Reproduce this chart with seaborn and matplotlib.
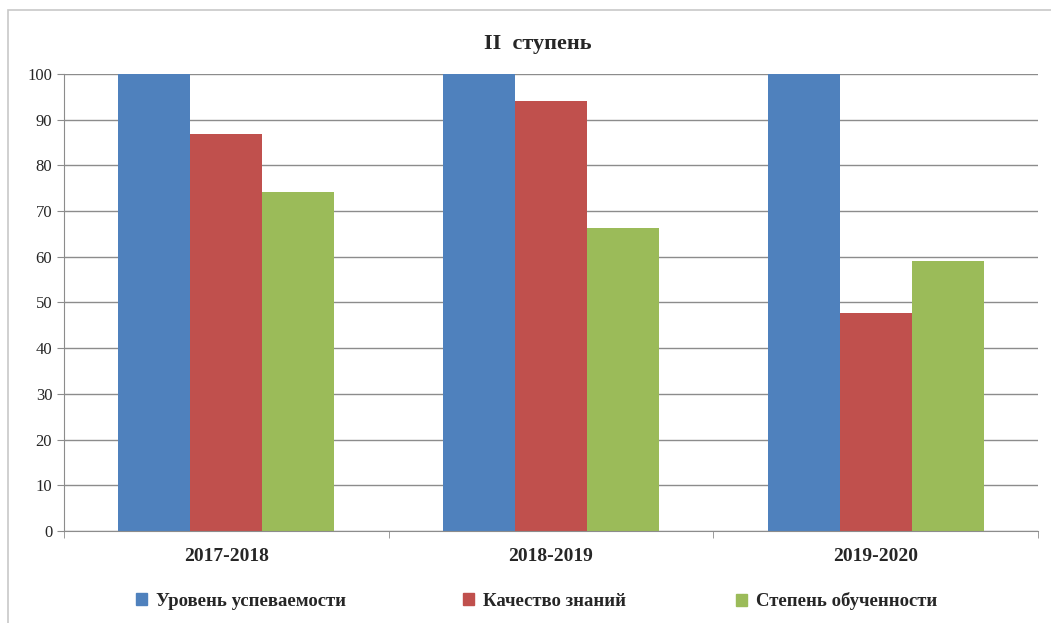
import pandas as pd
import seaborn as sns
import matplotlib.pyplot as plt
from matplotlib.patches import Rectangle

years = ['2017-2018', '2018-2019', '2019-2020']
series = ['Уровень успеваемости', 'Качество знаний', 'Степень обученности']
uspevaemost = [100, 100, 100]
kachestvo = [86.9, 94.1, 47.7]
obuchennost = [74.2, 66.3, 59.1]
colors = ['#4F81BD', '#C0504D', '#9BBB59']

df = pd.DataFrame({
    'year': years * 3,
    'series': [series[0]] * 3 + [series[1]] * 3 + [series[2]] * 3,
    'value': uspevaemost + kachestvo + obuchennost,
})

sns.set_style('white')
plt.rcParams['font.family'] = ['Liberation Serif', 'DejaVu Serif']

fig = plt.figure(figsize=(10.51, 6.23), dpi=100)
ax = fig.add_axes([0.0609, 0.1477, 0.9267, 0.7335])

sns.barplot(data=df, x='year', y='value', hue='series', palette=colors,
            width=0.665, gap=0, saturation=1, linewidth=0, ax=ax, legend=False)

ax.set_xlim(-0.5, 2.5)
ax.set_ylim(0, 100)
ax.set_yticks(range(0, 101, 10))
ax.yaxis.grid(True, color='#8c8c8c', linewidth=1)
ax.set_axisbelow(True)
ax.set_xlabel('')
ax.set_ylabel('')
for side in ['top', 'right']:
    ax.spines[side].set_visible(False)
for side in ['left', 'bottom']:
    ax.spines[side].set_color('#8c8c8c')
ax.tick_params(axis='y', labelsize=12, length=5, color='#8c8c8c', direction='out', left=True)
ax.tick_params(axis='x', which='major', length=0, labelsize=14, pad=12)
ax.set_xticks([-0.5, 0.5, 1.5, 2.5], minor=True)
ax.tick_params(axis='x', which='minor', length=5, color='#8c8c8c', direction='out', bottom=True)
for lbl in ax.get_xticklabels():
    lbl.set_fontweight('bold')

fig.text(0.512, 0.929, 'II  ступень', ha='center', va='center', fontsize=16, fontweight='bold')

# legend entries placed one by one, like the spreadsheet legend
legend_x = [136, 463, 736]
for name, c, x in zip(series, colors, legend_x):
    leg = fig.legend([Rectangle((0, 0), 1, 1, color=c)], [name], loc='center left',
                     bbox_to_anchor=(x / 1051, 0.035), frameon=False,
                     handlelength=0.6, handleheight=0.6, handletextpad=0.45,
                     borderpad=0, borderaxespad=0, prop={'weight': 'bold', 'size': 13.5})

fig.patches.append(Rectangle((8 / 1051, -0.1), 1.2, 1 - 10 / 623 + 0.1, transform=fig.transFigure,
                             fill=False, edgecolor='#c8c8c8', linewidth=1.2))

fig.savefig('out.png', dpi=100)
